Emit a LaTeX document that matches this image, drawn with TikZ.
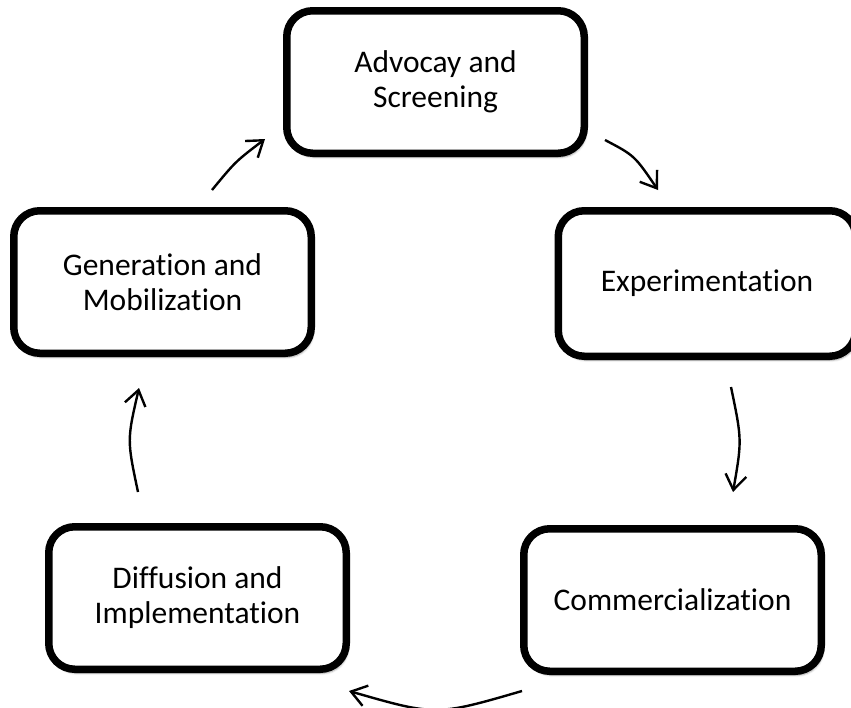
\documentclass[tikz,border=0pt]{standalone}
\usepackage{fontspec}
\setmainfont[Ligatures={NoCommon}]{Carlito}
\usetikzlibrary{arrows.meta,shadows.blur}

\begin{document}
\begin{tikzpicture}[
  x=1pt, y=-1pt,
  stage/.style={
    draw=black, line width=7.5pt, fill=white,
    rounded corners=26pt,
    minimum width=297.5pt, minimum height=142.5pt,
    align=center, inner sep=0pt,
    font=\fontsize{31.5}{35}\selectfont,
    blur shadow={shadow xshift=2pt, shadow yshift=-4pt,
                 shadow blur steps=6, shadow opacity=35, shadow blur extra rounding=4pt}
  },
  flow/.style={
    draw=black, line width=2.4pt,
    -{Straight Barb[length=15pt, width=21pt, line width=2.4pt]}
  }
]
\useasboundingbox (0,0) rectangle (851,707);

% the five stages of the cycle
\node[stage] (adv) at (435.5,82) {Advocay and\\Screening};
\node[stage] (gen) at (162.5,282) {Generation and\\Mobilization};
\node[stage, minimum height=145.5pt] (exp) at (707,283.5) {Experimentation};
\node[stage] (dif) at (197.5,598) {Diffusion and\\Implementation};
\node[stage] (com) at (672.5,600) {Commercialization};

% free-standing ends of the arrows between the stages
\coordinate (advS) at (605,140);  \coordinate (expN) at (658,190);
\coordinate (expS) at (731,387);  \coordinate (comN) at (733,492);
\coordinate (comW) at (522,691);  \coordinate (difE) at (349,691);
\coordinate (difN) at (138,492);  \coordinate (genS) at (139,388);
\coordinate (genN) at (212,190);  \coordinate (advW) at (265,139);

\draw[flow] (advS) .. controls (634.5,155.5) .. (expN);
\draw[flow] (expS) .. controls (742,440) .. (comN);
\draw[flow] (comW) .. controls (436,716) .. (difE);
\draw[flow] (difN) .. controls (127,440) .. (genS);
\draw[flow] (genN) .. controls (235.5,161.5) .. (advW);
\end{tikzpicture}
\end{document}
